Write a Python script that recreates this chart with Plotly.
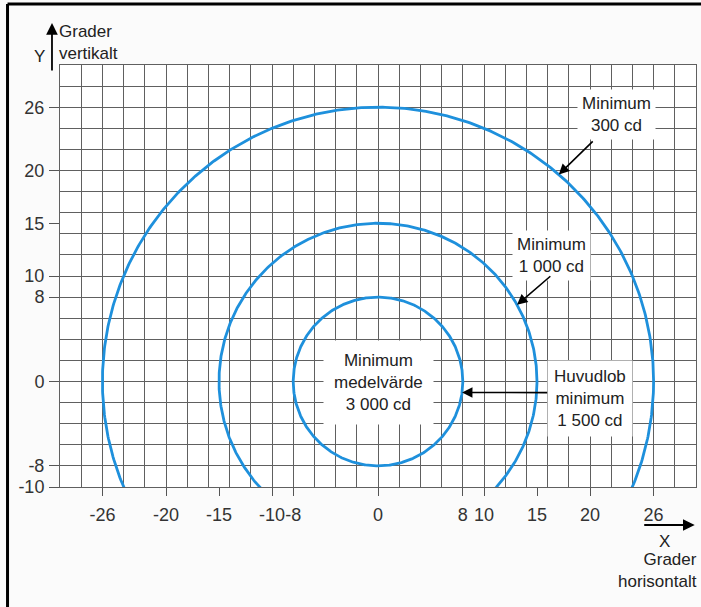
import numpy as np
import plotly.graph_objects as go

# circle radii (degrees) and labels
radii = [26, 15, 8]
x_ticks = [-26, -20, -15, -10, -8, 0, 8, 10, 15, 20, 26]
y_ticks = [26, 20, 15, 10, 8, 0, -8, -10]

# label boxes: text, x, y
label_text = ["Minimum<br>300 cd", "Minimum<br>1 000 cd",
              "Minimum<br>medelvärde<br>3 000 cd", "Huvudlob<br>minimum<br>1 500 cd"]
label_x = [22.5, 16.4, 0, 20.0]
label_y = [25.3, 11.9, -0.1, -1.6]
label_pad = [4, 4, 10, 6]

# arrows: head on the circle (radius, angle deg), tail in data coords
arrow_r = [26, 15, 8]
arrow_ang = [49, 29, -7.5]
arrow_tail_x = [20.4, 16.4, 16.1]
arrow_tail_y = [22.9, 10.1, -1.05]

BLUE = "#1e90dc"
GRID = "#606060"
FONT = "Liberation Sans, Arial, sans-serif"

fig = go.Figure()

t = np.linspace(0, 2 * np.pi, 721)
for r in radii:
    fig.add_trace(go.Scatter(x=r * np.cos(t), y=r * np.sin(t), mode="lines",
                             line=dict(color=BLUE, width=2.8), hoverinfo="skip",
                             showlegend=False))

# dummy trace so the overlay axes (ticks + labels) are drawn
fig.add_trace(go.Scatter(x=[0], y=[0], xaxis="x2", yaxis="y2", mode="markers",
                         marker=dict(opacity=0), showlegend=False, hoverinfo="skip"))

for txt, x, y, p in zip(label_text, label_x, label_y, label_pad):
    fig.add_annotation(x=x, y=y, xref="x", yref="y", text=txt, showarrow=False,
                       bgcolor="white", borderpad=p, align="center",
                       font=dict(size=17, color="#222"))

for r, a, tx, ty in zip(arrow_r, arrow_ang, arrow_tail_x, arrow_tail_y):
    hx = r * np.cos(np.radians(a))
    hy = r * np.sin(np.radians(a))
    fig.add_annotation(x=hx, y=hy, ax=tx, ay=ty, xref="x", yref="y", axref="x", ayref="y",
                       text="", showarrow=True, arrowhead=2, arrowsize=1.3,
                       arrowwidth=1.6, arrowcolor="black")

# axis arrows and titles (paper coords: plot area is 60..696 px wide, 65..487 px tall)
fig.add_annotation(x=-0.0126, y=1.0995, xref="paper", yref="paper", ax=0, ay=49,
                   axref="pixel", ayref="pixel", text="", showarrow=True,
                   arrowhead=2, arrowsize=1.3, arrowwidth=1.8, arrowcolor="black")
fig.add_annotation(x=-0.033, y=1.02, xref="paper", yref="paper", text="Y",
                   xanchor="center", yanchor="middle",
                   showarrow=False, font=dict(size=17, color="#222"))
fig.add_annotation(x=-0.004, y=1.053, xref="paper", yref="paper", xanchor="left",
                   yanchor="middle", text="Grader<br>vertikalt", align="left",
                   showarrow=False, font=dict(size=17, color="#222"))
fig.add_annotation(x=0.998, y=-0.090, xref="paper", yref="paper", ax=-52, ay=0,
                   axref="pixel", ayref="pixel", text="", showarrow=True,
                   arrowhead=2, arrowsize=1.3, arrowwidth=1.8, arrowcolor="black")
fig.add_annotation(x=0.951, y=-0.128, xref="paper", yref="paper", text="X",
                   xanchor="center", yanchor="middle",
                   showarrow=False, font=dict(size=17, color="#222"))
fig.add_annotation(x=1.004, y=-0.197, xref="paper", yref="paper", xanchor="right",
                   yanchor="middle", text="Grader<br>horisontalt", align="right",
                   showarrow=False, font=dict(size=17, color="#222"))

# picture frame (left and top)
fig.add_shape(type="line", xref="paper", yref="paper", x0=-0.0825, x1=-0.0825,
              y0=-0.30, y1=1.1445, line=dict(color="black", width=3))
fig.add_shape(type="line", xref="paper", yref="paper", x0=-0.0825, x1=1.02,
              y0=1.1445, y1=1.1445, line=dict(color="black", width=3))

fig.update_layout(
    width=701, height=607, autosize=False,
    margin=dict(l=60, r=5, t=65, b=120),
    paper_bgcolor="#fbfbfb", plot_bgcolor="white",
    font=dict(family=FONT, size=17, color="#222"),
    showlegend=False,
    xaxis=dict(range=[-30, 30], tick0=0, dtick=2, showgrid=True, gridcolor=GRID,
               gridwidth=1, showticklabels=False, ticks="", zeroline=False,
               showline=True, linecolor=GRID, mirror=True, fixedrange=True),
    yaxis=dict(range=[-10, 30], tick0=0, dtick=2, showgrid=True, gridcolor=GRID,
               gridwidth=1, showticklabels=False, ticks="", zeroline=False,
               showline=True, linecolor=GRID, mirror=True, fixedrange=True),
    xaxis2=dict(range=[-30, 30], overlaying="x", side="bottom", tickvals=x_ticks,
                ticktext=[str(v) for v in x_ticks], tickangle=0, ticks="outside",
                ticklen=8, tickcolor="#555", showgrid=False, zeroline=False,
                showline=False, ticklabelstandoff=3, tickfont=dict(size=18, color="#333")),
    yaxis2=dict(range=[-10, 30], overlaying="y", side="left", tickvals=y_ticks,
                ticktext=[str(v) for v in y_ticks], ticks="outside", ticklen=10,
                tickcolor="#555", showgrid=False, zeroline=False, showline=False,
                ticklabelstandoff=1, tickfont=dict(size=18, color="#333")),
)

fig.write_html("out.html", config={"displayModeBar": False},
               post_script="document.body.style.margin='0';document.body.style.overflow='hidden';")
